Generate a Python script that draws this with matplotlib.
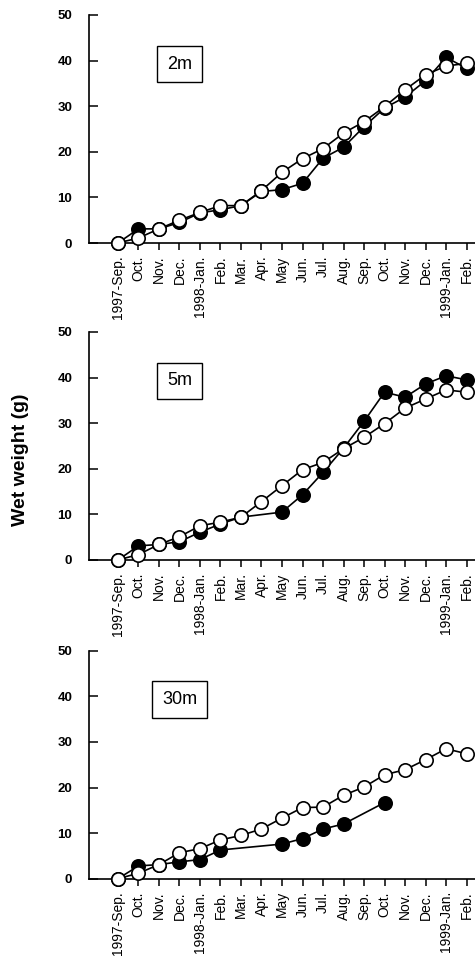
import matplotlib
matplotlib.use("Agg")
import matplotlib.pyplot as plt
import numpy as np

nan = np.nan
months = ["1997-Sep.", "Oct.", "Nov.", "Dec.", "1998-Jan.", "Feb.", "Mar.",
          "Apr.", "May", "Jun.", "Jul.", "Aug.", "Sep.", "Oct.", "Nov.",
          "Dec.", "1999-Jan.", "Feb."]

# open circles
open_2m = [0, 1.1, 3.1, 5.0, 6.7, 8.2, 8.2, 11.5, 15.5, 18.5, 20.7, 24.1,
           26.6, 29.9, 33.6, 36.9, 38.8, 39.4]
open_5m = [0, 1.2, 3.4, 5.1, 7.5, 8.3, 9.4, 12.8, 16.3, 19.8, 21.4, 24.4,
           26.9, 29.9, 33.3, 35.3, 37.3, 36.8]
open_30m = [0, 1.2, 3.1, 5.7, 6.6, 8.5, 9.5, 10.9, 13.3, 15.6, 15.7, 18.3,
            20.1, 22.8, 23.9, 26.1, 28.5, 27.4]

# filled circles
filled_2m = [0, 3.1, 3.1, 4.5, 6.6, 7.3, 8.2, 11.3, 11.7, 13.1, 18.6, 21.0,
             25.5, 29.6, 32.0, 35.6, 40.7, 38.3]
filled_5m = [0, 3.1, 3.4, 4.0, 6.1, 7.9, 9.4, nan, 10.5, 14.3, 19.2, 24.5,
             30.4, 36.8, 35.7, 38.6, 40.4, 39.5]
filled_30m = [0, 2.8, 3.1, 3.7, 4.2, 6.3, nan, nan, 7.6, 8.8, 10.9, 12.0,
              nan, 16.7, nan, nan, nan, nan]

depths = ["2m", "5m", "30m"]
opens = [open_2m, open_5m, open_30m]
filleds = [filled_2m, filled_5m, filled_30m]

plt.rcParams["font.family"] = ["Liberation Sans", "DejaVu Sans"]

fig = plt.figure(figsize=(4.75, 9.67), dpi=100)
bottoms = [0.7487, 0.4209, 0.0913]
x = np.arange(len(months))

for b, depth, yo, yf in zip(bottoms, depths, opens, filleds):
    ax = fig.add_axes([0.1874, b, 0.8126, 0.2358])
    yf = np.array(yf, dtype=float)
    ok = ~np.isnan(yf)
    ax.plot(x[ok], yf[ok], "-o", color="black", mfc="black", mec="black",
            ms=9.6, mew=1.2, lw=1.2, clip_on=False, zorder=3)
    ax.plot(x, yo, "-o", color="black", mfc="white", mec="black",
            ms=9.6, mew=1.2, lw=1.2, clip_on=False, zorder=4)
    ax.set_xlim(-1.41, 17.41)
    ax.set_ylim(0, 50)
    ax.set_yticks([0, 10, 20, 30, 40, 50])
    ax.set_yticklabels(["0", "10", "20", "30", "40", "50"],
                       fontsize=9.5, fontweight="bold")
    ax.set_xticks(x)
    ax.set_xticklabels(months, rotation=90, fontsize=10)
    ax.tick_params(axis="y", direction="in", length=6.5, width=1.1, pad=12)
    ax.tick_params(axis="x", direction="out", length=5, width=1.1, pad=4)
    for s in ["top", "right"]:
        ax.spines[s].set_visible(False)
    for s in ["left", "bottom"]:
        ax.spines[s].set_linewidth(1.2)
    ax.text(0.235, 0.785, depth, transform=ax.transAxes, fontsize=13,
            ha="center", va="center",
            bbox=dict(boxstyle="square,pad=0.55", fc="white", ec="black",
                      lw=1.0))

fig.text(0.044, 0.525, "Wet weight (g)", rotation=90, fontsize=14,
         fontweight="bold", ha="center", va="center")

fig.savefig("out.png", dpi=100)
